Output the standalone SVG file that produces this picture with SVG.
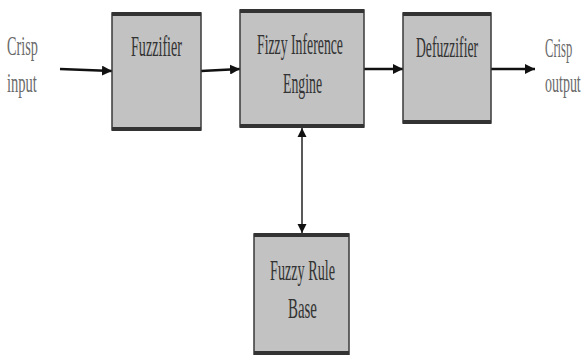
<svg xmlns="http://www.w3.org/2000/svg" width="582" height="355" viewBox="0 0 582 355">
<defs>
<style>
.box{fill:#c2c2c2;stroke:#3a3a3a;stroke-width:1.5}
.edge{stroke:#333;stroke-width:4}
.t{font-family:"Liberation Serif","Times New Roman",serif;font-size:30px;fill:#333;text-anchor:middle}
.o{font-family:"Liberation Serif","Times New Roman",serif;font-size:28px;fill:#6a6a6a}
.c{stroke:#111;stroke-width:2.5;fill:none}
.v{stroke:#222;stroke-width:1.5;fill:none}
</style>
<marker id="ah" viewBox="0 0 10 10" refX="10" refY="5" markerWidth="10" markerHeight="10" markerUnits="userSpaceOnUse" orient="auto">
<path d="M0,0 L10,5 L0,10 z" fill="#111"/>
</marker>
<marker id="ahs" viewBox="0 0 10 10" refX="10" refY="5" markerWidth="9" markerHeight="10" markerUnits="userSpaceOnUse" orient="auto-start-reverse">
<path d="M0,0 L10,5 L0,10 z" fill="#111"/>
</marker>
</defs>
<g id="connectors">
<path class="c" d="M60,69 L112,71" marker-end="url(#ah)"/>
<path class="c" d="M201,71 L240,69" marker-end="url(#ah)"/>
<path class="c" d="M364,69 L403,69" marker-end="url(#ah)"/>
<path class="c" d="M491,69 L535,69" marker-end="url(#ah)"/>
<path class="v" d="M302,128 L302,233" marker-start="url(#ahs)" marker-end="url(#ahs)"/>
</g>
<g id="crisp-input">
<text class="o" transform="translate(7,55) scale(0.51,1)">Crisp</text>
<text class="o" transform="translate(7,92) scale(0.52,1)">input</text>
</g>
<g id="fuzzifier">
<rect class="box" x="112" y="13" width="89" height="117"/>
<line class="edge" x1="112" y1="14" x2="201" y2="14"/>
<line class="edge" x1="112" y1="129" x2="201" y2="129"/>
<text class="t" transform="translate(156.5,56) scale(0.471,1)">Fuzzifier</text>
</g>
<g id="inference-engine">
<rect class="box" x="240" y="10" width="124" height="117"/>
<line class="edge" x1="240" y1="11" x2="364" y2="11"/>
<line class="edge" x1="240" y1="126" x2="364" y2="126"/>
<text class="t" transform="translate(300,54) scale(0.459,1)">Fizzy Inference</text>
<text class="t" transform="translate(302.5,93) scale(0.459,1)">Engine</text>
</g>
<g id="defuzzifier">
<rect class="box" x="403" y="13" width="88" height="110"/>
<line class="edge" x1="403" y1="14" x2="491" y2="14"/>
<line class="edge" x1="403" y1="122" x2="491" y2="122"/>
<text class="t" transform="translate(447,57) scale(0.454,1)">Defuzzifier</text>
</g>
<g id="crisp-output">
<text class="o" transform="translate(545,57) scale(0.45,1)">Crisp</text>
<text class="o" transform="translate(545,92) scale(0.5,1)">output</text>
</g>
<g id="rule-base">
<rect class="box" x="254" y="234" width="95" height="125"/>
<line class="edge" x1="254" y1="235" x2="349" y2="235"/>
<line class="edge" x1="254" y1="353" x2="349" y2="353"/>
<text class="t" transform="translate(302.5,280) scale(0.473,1)">Fuzzy Rule</text>
<text class="t" transform="translate(302.5,318) scale(0.497,1)">Base</text>
</g>
</svg>
